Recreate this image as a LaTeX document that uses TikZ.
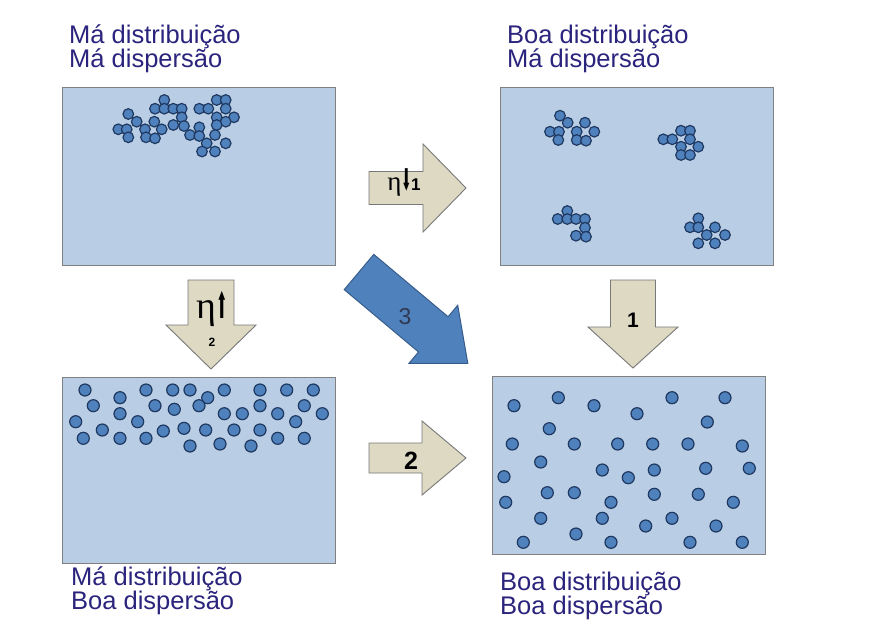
\documentclass[tikz,border=0pt]{standalone}
\usepackage{fontspec}
\setmainfont{Liberation Sans}
\newfontfamily\greekfont{Liberation Serif}
\newfontfamily\symfont{DejaVu Sans}
\usepackage{graphicx}
\usetikzlibrary{positioning}
\definecolor{panelblue}{RGB}{185,205,229}
\definecolor{panelline}{RGB}{128,128,128}
\definecolor{dotblue}{RGB}{79,129,189}
\definecolor{dotline}{RGB}{31,56,96}
\definecolor{tanfill}{RGB}{221,217,195}
\definecolor{tanline}{RGB}{120,120,120}
\definecolor{bigline}{RGB}{56,93,138}
\definecolor{captext}{RGB}{43,36,125}
\definecolor{numtext}{RGB}{48,58,84}
% thick narrow arrow used next to eta
\newcommand{\heavyarrow}[2]{{\symfont\fontsize{#2}{#2}\selectfont\scalebox{0.38}[1]{#1}}}
\tikzset{
    panel/.style={
        draw=panelline,line width=1.3pt,fill=panelblue,
        minimum width=273pt,inner sep=0pt,anchor=north west
    },
    caption/.style={
        anchor=base west,inner sep=0pt,text=captext,
        font=\fontsize{25.5}{25.5}\selectfont
    },
    grain/.style={draw=dotline,line width=1.2pt,fill=dotblue},
    tanarrow/.style={draw=tanline,line width=0.9pt,fill=tanfill},
    bluearrow/.style={draw=bigline,line width=1pt,fill=dotblue},
    pics/fatarrow/.style args={#1/#2/#3/#4}{code={
        \path[pic actions] (0,-#2) -- (#1-#4,-#2) -- (#1-#4,-#3) -- (#1,0)
            -- (#1-#4,#3) -- (#1-#4,#2) -- (0,#2) -- cycle;
    }}
}

\begin{document}
\begin{tikzpicture}[x=1pt,y=-1pt]
\useasboundingbox[fill=white] (0,0) rectangle (873,633);

% the four states
\node[panel,minimum height=178pt] (badbad) at (62,87) {};
\node[panel,minimum height=178pt] (goodbad) at (500,87) {};
\node[panel,minimum height=186pt] (badgood) at (62,377) {};
\node[panel,minimum height=178pt] (goodgood) at (492,376) {};

\node[caption] (capA1) at (69,43) {Má distribuição};
\node[caption] (capA2) at (69,67) {Má dispersão};
\node[caption] (capB1) at (507,43) {Boa distribuição};
\node[caption] (capB2) at (507,67) {Má dispersão};
\node[caption] (capC1) at (71,585) {Má distribuição};
\node[caption] (capC2) at (71,609) {Boa dispersão};
\node[caption] (capD1) at (500,590) {Boa distribuição};
\node[caption] (capD2) at (500,614) {Boa dispersão};

% one big lump
\foreach \x/\y in {164.3/100,216.7/100,225.7/100,
    155/108.7,164.3/108.7,173.3/108.7,181.7/108.7,199.3/108.7,208.3/108.7,225.7/108.7,
    128.3/114,181.7/117.3,216.7/117.3,234/117.3,
    136.7/121.7,154.3/121.7,225.7/121.7,
    173.3/125,184/126,216.7/125,
    118.3/129.3,126.7/129.3,145/129.3,161.7/129.3,199.3/127.3,
    190/135,199.3/136,215/135,
    128.3/137.3,146/137.3,155/138.3,
    206.7/143.3,225.7/143.3,202/151.5,215/151.5}
    \draw[grain] (\x,\y) circle[radius=5.3pt];

% four small lumps
\foreach \x/\y in {560/115.7,567.7/122.7,585/122.7,550/131.7,559/131.7,576.7/131.7,
    594.3/131.7,558.3/140,576.7/140,586/140.7,
    681/130.7,690/130.7,663.3/139.3,672.3/139.3,690/139.3,681/146.7,698.3/146.7,
    681/155,690/155,
    567.3/211,557.7/219,567.3/219,576/219,585/219,585/227.7,576/235.7,586/236.7,
    698.3/218.3,690/227.3,698.3/227.3,715/227.3,706.7/235,725/235,698.3/243.3,715/243.3}
    \draw[grain] (\x,\y) circle[radius=5.3pt];

% loose particles, upper band only
\foreach \x/\y in {85/390,146/390,172.7/390,190/390,224.3/390,260/390,286.7/390,313.3/390,
    207.7/397.7,120/397.7,
    93.3/405.7,155/405.7,199/405.7,260/405.7,304.3/405.7,174.3/409.3,
    120/413.7,224.3/413.7,242.3/413.7,277.7/413.7,322.3/413.7,
    75.7/421.7,137.7/421.7,295.7/421.7,
    102.3/430,163.3/431,184/428.3,205.7/430,234/430,260/430,
    83.3/438.3,120/438.3,146/438.3,277.7/438.3,304.3/438.3,
    190/446,220/444,251/446}
    \draw[grain] (\x,\y) circle[radius=6pt];

% loose particles, everywhere
\foreach \x/\y in {514/405.7,558.3/397.7,594/405.7,637/413.7,672/397.7,725/397.7,
    707.3/422,549.3/428.7,
    512.3/444,574.3/444,617.7/444,652.7/444,688/444,742.3/446,
    540.7/462,504/476.7,602.3/470,628.3/477.7,654.3/470,705.7/468.3,749.3/468.3,
    547.3/492.7,574.3/492.7,505.7/502.3,611/502.3,654.3/494.3,698.3/494.3,733.3/502.3,
    540.7/518.3,602.3/518.3,645.7/526,672/518.3,716/526,
    576/534,523.3/542.3,611/542.3,690/542.3,742.3/542.3}
    \draw[grain] (\x,\y) circle[radius=6pt];

% routes between the states
\pic[tanarrow] (routeA) at (369,188) {fatarrow=97/16.5/44/43};
\pic[tanarrow,rotate=-90] (routeB) at (211,280) {fatarrow=89/23/45/44};
\pic[tanarrow,rotate=-90] (routeC) at (633,280) {fatarrow=88/22.5/45/41};
\pic[tanarrow] (routeD) at (369,458) {fatarrow=97/15/37/44};
\pic[bluearrow,rotate=-40] (routeE) at (359,272) {fatarrow=142/23/38/45};

\node[font=\bfseries\fontsize{17}{17}\selectfont,inner sep=0pt] (tagA) at (404,182)
    {{\greekfont\mdseries\fontsize{27}{27}\selectfont η}\heavyarrow{⬇}{30}1};
\node[inner sep=0pt] (tagB) at (212,309)
    {{\greekfont\fontsize{38}{38}\selectfont η}\heavyarrow{⬆}{36}};
\node[font=\bfseries\fontsize{12}{12}\selectfont,inner sep=0pt] (tagB2) at (212,342) {2};
\node[font=\bfseries\fontsize{21}{21}\selectfont,inner sep=0pt] (tagC) at (633,320) {1};
\node[font=\bfseries\fontsize{25}{25}\selectfont,inner sep=0pt] (tagD) at (411,461) {2};
\node[font=\fontsize{23}{23}\selectfont,text=numtext,inner sep=0pt] (tagE) at (405,317) {3};

\end{tikzpicture}
\end{document}
